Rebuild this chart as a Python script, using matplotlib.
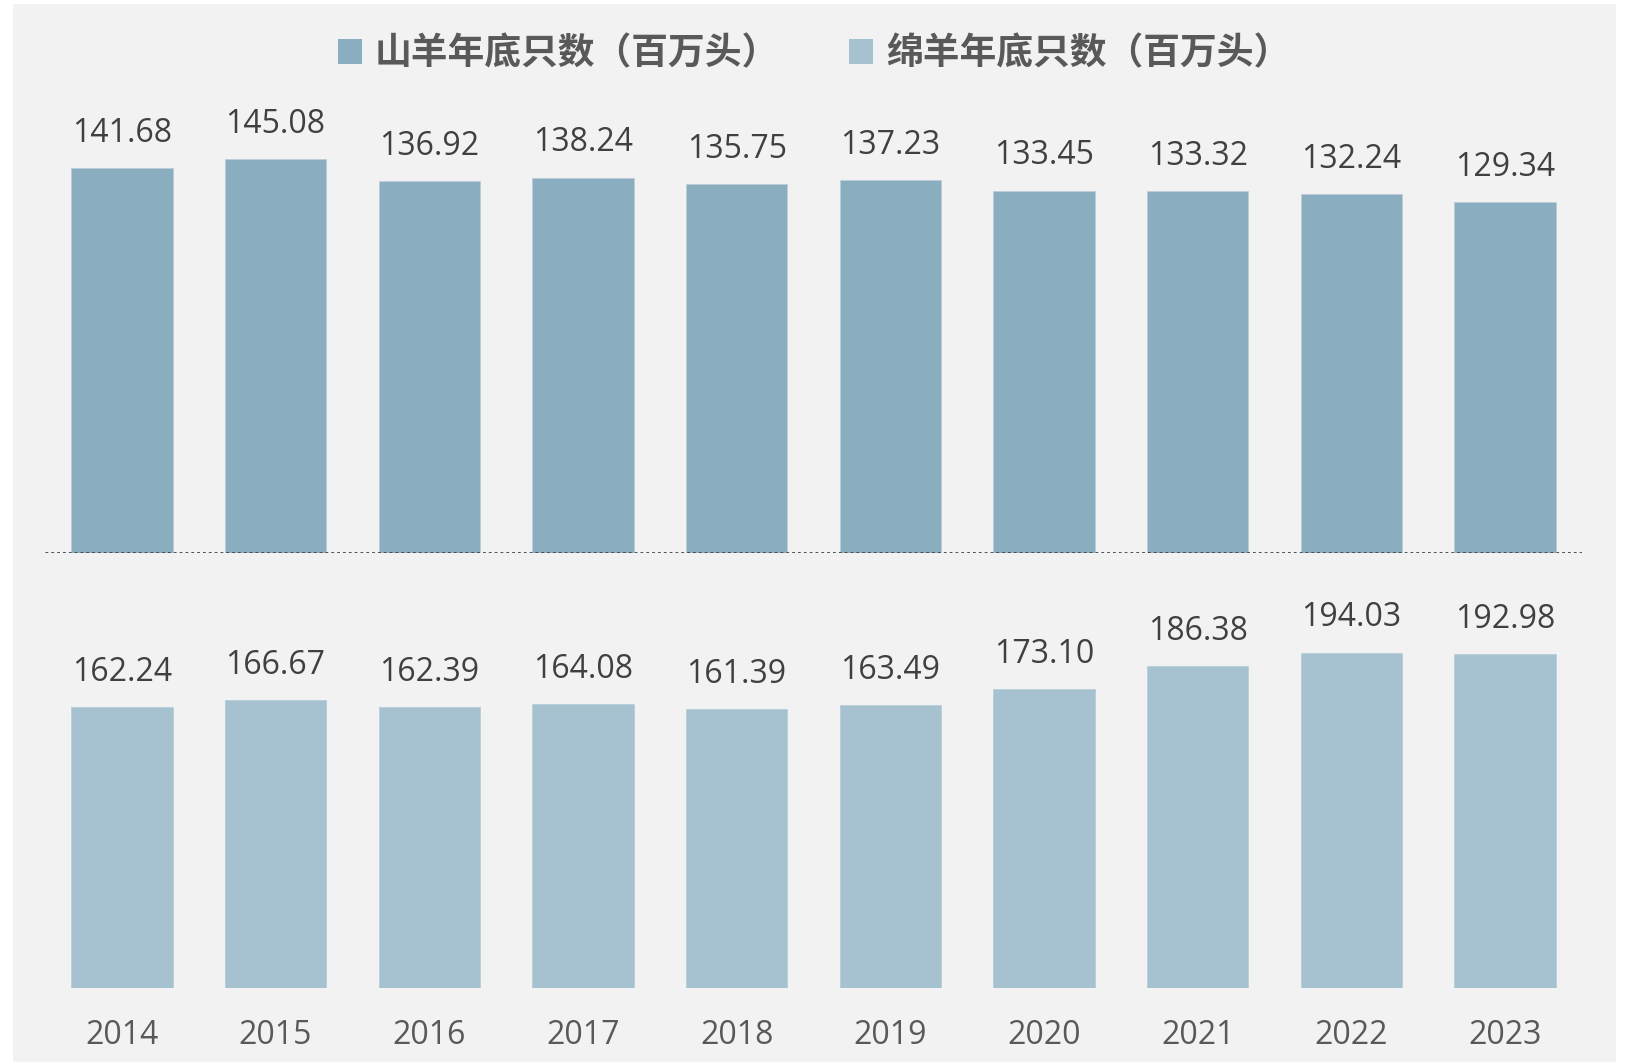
import matplotlib
matplotlib.use("Agg")
import matplotlib.pyplot as plt
from matplotlib.patches import Rectangle, Patch

years = ["2014", "2015", "2016", "2017", "2018", "2019", "2020", "2021", "2022", "2023"]
goats = [141.68, 145.08, 136.92, 138.24, 135.75, 137.23, 133.45, 133.32, 132.24, 129.34]
sheep = [162.24, 166.67, 162.39, 164.08, 161.39, 163.49, 173.10, 186.38, 194.03, 192.98]
goat_label = "山羊年底只数（百万头）"
sheep_label = "绵羊年底只数（百万头）"

goat_color = "#8aadbf"
sheep_color = "#a6c1cf"
bg = "#f2f2f2"

W, H = 1626, 1062
fig = plt.figure(figsize=(W / 100, H / 100), dpi=100, facecolor="white")
fig.patches.append(Rectangle((13 / W, 0), (1616 - 13) / W, (1062 - 4) / H,
                             transform=fig.transFigure, facecolor=bg, edgecolor="none", zorder=-10))

num_font = ["Open Sans", "DejaVu Sans"]
x = list(range(len(years)))
left = 45 / W
width = (1582 - 45) / W

# top axes: baseline at 553 px, 2.716 px per unit
top_ylim = 160
top_h = top_ylim * 2.716
ax1 = fig.add_axes([left, (H - 553) / H, width, top_h / H])
# bottom axes: baseline at 988 px, 1.729 px per unit
bot_ylim = 230
bot_h = bot_ylim * 1.729
ax2 = fig.add_axes([left, (H - 988) / H, width, bot_h / H])

for ax, vals, col, ylim in [(ax1, goats, goat_color, top_ylim), (ax2, sheep, sheep_color, bot_ylim)]:
    ax.set_facecolor("none")
    bars = ax.bar(x, vals, width=0.66, color=col, edgecolor="#b9ced9", linewidth=0.6, zorder=2)
    ax.bar_label(bars, labels=[f"{v:.2f}" for v in vals], padding=13,
                 fontsize=23, color="#404040", family=num_font)
    ax.set_xlim(-0.5, len(years) - 0.5)
    ax.set_ylim(0, ylim)
    ax.set_yticks([])
    for s in ax.spines.values():
        s.set_visible(False)

ax1.set_xticks([])
ax1.axhline(0, color="#404040", linewidth=2.0, linestyle=(0, (1.0, 1.1)), zorder=3)

ax2.set_xticks(x)
ax2.set_xticklabels(years, fontsize=23, color="#595959", family=num_font)
ax2.tick_params(axis="x", length=0, pad=22)

handles = [Patch(facecolor=goat_color, edgecolor="none", label=goat_label),
           Patch(facecolor=sheep_color, edgecolor="none", label=sheep_label)]
leg = fig.legend(handles=handles, loc="center", bbox_to_anchor=(814 / W, (H - 54) / H),
                 ncol=2, frameon=False, handlelength=0.65, handleheight=0.65,
                 handletextpad=0.35, columnspacing=1.9,
                 prop={"family": ["Noto Sans CJK SC", "DejaVu Sans"], "weight": "heavy", "size": 26.5})
for t in leg.get_texts():
    t.set_color("#595959")

fig.savefig("out.png", dpi=100, facecolor=fig.get_facecolor())
